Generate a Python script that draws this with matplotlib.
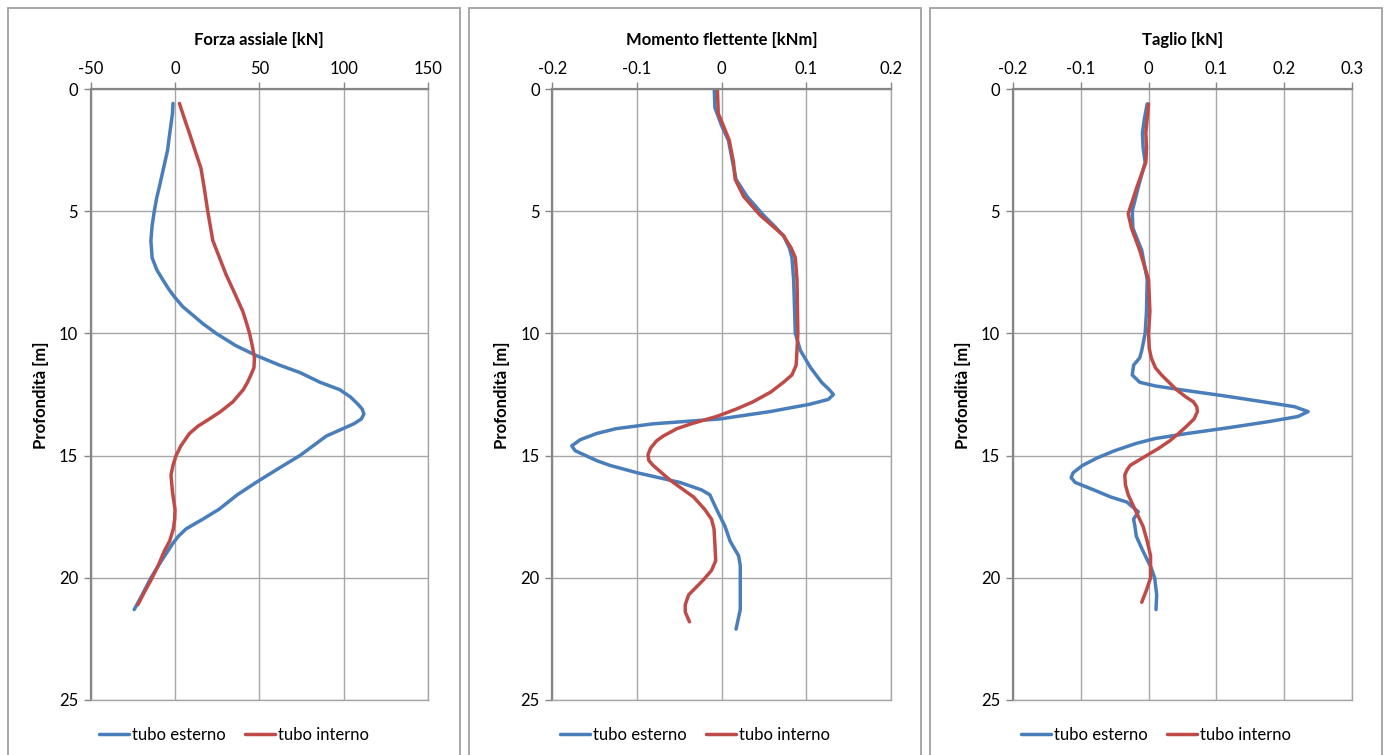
import matplotlib
matplotlib.use("Agg")
import matplotlib.pyplot as plt
from matplotlib.patches import Rectangle

plt.rcParams['font.family'] = ['Lato', 'DejaVu Sans']

# ---------------- data ----------------
series_names = ["tubo esterno", "tubo interno"]
ylabel = "Profondità [m]"

# Panel 1: Forza assiale [kN]
axial_title = "Forza assiale [kN]"
axial_ticks = [-50, 0, 50, 100, 150]
axial_ext_depth = [0.59, 1.0, 1.5, 2.0, 2.5, 3.3, 4.0, 4.5, 5.0, 5.6, 6.2, 6.9, 7.4, 7.8, 8.2, 8.5, 8.9,
                   9.25, 9.6, 10.0, 10.5, 10.9, 11.3, 11.6, 12.0, 12.3, 12.6, 12.9, 13.1, 13.3, 13.5,
                   13.7, 14.2, 15.0, 15.5, 16.1, 16.6, 17.2, 17.6, 18.0, 18.3, 18.6, 19.3, 20.0, 20.7,
                   21.3]
axial_ext_val = [-1.2, -1.5, -2.5, -3.5, -4.4, -7.0, -9.3, -11.0, -12.3, -13.6, -14.3, -13.6, -10.8,
                 -7.3, -3.6, -0.4, 4.5, 10.5, 16.5, 24.4, 36.0, 48.0, 62.0, 74.0, 86.0, 97.6, 104.0,
                 108.5, 111.0, 112.0, 110.5, 106.0, 89.7, 74.0, 62.0, 48.0, 37.0, 26.0, 16.5, 6.5,
                 2.0, -1.4, -8.0, -14.3, -19.5, -24.2]
axial_int_depth = [0.59, 1.2, 1.8, 2.5, 3.25, 4.0, 5.0, 6.2, 7.6, 8.3, 9.1, 9.6, 10.0, 10.5, 11.0, 11.4,
                   11.7, 12.0, 12.3, 12.8, 13.2, 13.5, 13.8, 14.1, 14.6, 15.0, 15.4, 15.8, 16.5, 17.2,
                   17.6, 18.0, 18.5, 18.9, 19.5, 20.1, 20.6, 21.1]
axial_int_val = [2.6, 5.5, 8.5, 11.8, 15.4, 17.2, 19.4, 22.4, 30.3, 35.0, 40.2, 42.5, 44.2, 45.8, 47.1,
                 46.8, 45.0, 43.0, 40.5, 34.3, 27.0, 20.4, 13.5, 8.5, 3.5, 0.6, -1.2, -2.4, -1.5, 0.0,
                 -0.2, -1.0, -3.2, -6.3, -10.0, -14.3, -18.3, -22.0]

# Panel 2: Momento flettente [kNm]
moment_title = "Momento flettente [kNm]"
moment_ticks = [-0.2, -0.1, 0, 0.1, 0.2]
moment_ext_depth = [0.03, 0.76, 1.5, 2.1, 3.0, 3.7, 4.4, 5.15, 5.6, 6.0, 6.5, 6.9, 7.8, 10.0, 10.7,
                    11.4, 12.0, 12.3, 12.5, 12.7, 12.9, 13.2, 13.5, 13.7, 13.9, 14.1, 14.35, 14.6,
                    14.8, 14.96, 15.2, 15.4, 15.7, 16.1, 16.4, 16.6, 17.2, 17.9, 18.5, 19.1, 19.5,
                    20.1, 21.3, 22.1]
moment_ext_val = [-0.0087, -0.008, 0.0, 0.008, 0.013, 0.017, 0.030, 0.049, 0.062, 0.073, 0.080, 0.083,
                  0.085, 0.087, 0.093, 0.105, 0.118, 0.127, 0.132, 0.126, 0.104, 0.057, -0.002,
                  -0.081, -0.125, -0.148, -0.167, -0.177, -0.173, -0.163, -0.148, -0.132, -0.100,
                  -0.049, -0.024, -0.014, -0.006, 0.004, 0.010, 0.020, 0.022, 0.022, 0.022, 0.017]
moment_int_depth = [0.03, 1.0, 1.5, 2.1, 3.0, 3.7, 4.4, 5.15, 5.6, 6.0, 6.5, 6.9, 7.8, 10.0, 11.3,
                    11.7, 12.0, 12.4, 12.8, 13.1, 13.4, 13.7, 13.9, 14.2, 14.4, 14.7, 14.96, 15.2,
                    15.4, 16.0, 16.7, 17.2, 17.6, 18.0, 18.6, 19.3, 19.7, 20.1, 20.7, 21.1, 21.4, 21.8]
moment_int_val = [-0.005, -0.004, 0.002, 0.009, 0.014, 0.016, 0.026, 0.045, 0.060, 0.073, 0.082, 0.087,
                  0.089, 0.090, 0.088, 0.083, 0.073, 0.058, 0.037, 0.017, -0.006, -0.036, -0.053,
                  -0.069, -0.077, -0.084, -0.087, -0.086, -0.081, -0.061, -0.033, -0.020, -0.012,
                  -0.009, -0.008, -0.007, -0.012, -0.022, -0.039, -0.043, -0.043, -0.038]

# Panel 3: Taglio [kN]
shear_title = "Taglio [kN]"
shear_ticks = [-0.2, -0.1, 0, 0.1, 0.2, 0.3]
shear_ext_depth = [0.61, 1.2, 1.8, 2.4, 3.0, 4.0, 5.0, 5.7, 6.6, 7.8, 9.1, 10.0, 10.7, 11.0, 11.3,
                   11.7, 12.0, 12.15, 12.3, 12.55, 12.8, 13.0, 13.2, 13.4, 13.6, 13.85, 14.1, 14.3,
                   14.5, 14.8, 15.1, 15.4, 15.7, 15.9, 16.1, 16.4, 16.7, 16.9, 17.3, 17.6, 17.9,
                   18.3, 18.8, 19.2, 19.6, 20.0, 20.7, 21.3]
shear_ext_val = [-0.002, -0.006, -0.009, -0.008, -0.005, -0.015, -0.024, -0.023, -0.010, -0.002,
                 -0.003, -0.005, -0.010, -0.013, -0.022, -0.024, -0.013, 0.010, 0.046, 0.110, 0.169,
                 0.215, 0.235, 0.220, 0.179, 0.120, 0.056, 0.010, -0.018, -0.050, -0.076, -0.097,
                 -0.111, -0.114, -0.108, -0.081, -0.055, -0.032, -0.015, -0.022, -0.020, -0.018,
                 -0.010, -0.003, 0.004, 0.009, 0.012, 0.011]
shear_int_depth = [0.61, 1.2, 1.8, 2.4, 3.0, 4.0, 4.6, 5.1, 5.7, 6.6, 7.8, 9.1, 10.0, 10.6, 11.0,
                   11.4, 11.7, 12.0, 12.3, 12.6, 12.8, 13.0, 13.2, 13.5, 13.8, 14.1, 14.4, 14.7,
                   15.0, 15.2, 15.4, 15.6, 15.8, 16.2, 16.6, 17.2, 17.9, 18.5, 19.1, 20.0, 20.5, 21.0]
shear_int_val = [0.0, -0.002, -0.004, -0.003, -0.004, -0.017, -0.024, -0.030, -0.025, -0.013, 0.0,
                 0.002, 0.0, 0.001, 0.004, 0.010, 0.019, 0.030, 0.041, 0.055, 0.066, 0.071, 0.072,
                 0.067, 0.056, 0.044, 0.031, 0.015, -0.003, -0.015, -0.027, -0.032, -0.035, -0.034,
                 -0.030, -0.020, -0.008, -0.002, 0.003, 0.003, -0.003, -0.010]

y_ticks = [0, 5, 10, 15, 20, 25]

# ---------------- styling ----------------
W, H = 1385, 755
BLUE = "#4A7EBB"
RED = "#BE4B48"
AXIS_C = "#868686"
GRID_C = "#A6A6A6"
BORDER_C = "#A0A0A0"

fig = plt.figure(figsize=(W / 100, H / 100), dpi=100)
fig.patch.set_facecolor("white")


def px_axes(x0, x1, y0, y1):
    return fig.add_axes([x0 / W, (H - y1) / H, (x1 - x0) / W, (y1 - y0) / H])


panels = [
    dict(border=(8, 460), ax=(90.7, 428.0), title=axial_title, ticks=axial_ticks,
         lim=(-50, 150), ext=(axial_ext_val, axial_ext_depth), int=(axial_int_val, axial_int_depth)),
    dict(border=(469, 921), ax=(552.3, 891.0), title=moment_title, ticks=moment_ticks,
         lim=(-0.2, 0.2), ext=(moment_ext_val, moment_ext_depth), int=(moment_int_val, moment_int_depth)),
    dict(border=(930, 1382), ax=(1012.7, 1352.3), title=shear_title, ticks=shear_ticks,
         lim=(-0.2, 0.3), ext=(shear_ext_val, shear_ext_depth), int=(shear_int_val, shear_int_depth)),
]

for p in panels:
    bx0, bx1 = p["border"]
    fig.patches.append(Rectangle((bx0 / W, -0.05), (bx1 - bx0) / W, (H - 8) / H + 0.05,
                                 transform=fig.transFigure, fill=False, edgecolor=BORDER_C,
                                 linewidth=1.3, zorder=0))
    ax = px_axes(p["ax"][0], p["ax"][1], 89, 700)
    ax.set_xlim(*p["lim"])
    ax.set_ylim(25, 0)
    ax.set_xticks(p["ticks"])
    ax.set_xticklabels([f"{t:g}" for t in p["ticks"]])
    ax.set_yticks(y_ticks)
    ax.xaxis.tick_top()
    ax.tick_params(axis="both", direction="out", length=5, width=1.0, color=AXIS_C,
                   labelsize=12, pad=4, labelcolor="black")
    ax.grid(True, color=GRID_C, linewidth=1.0)
    ax.set_axisbelow(True)
    for side in ("top", "left"):
        ax.spines[side].set_color(AXIS_C)
        ax.spines[side].set_linewidth(1.6)
    for side in ("bottom", "right"):
        ax.spines[side].set_color(GRID_C)
        ax.spines[side].set_linewidth(1.0)
    l1, = ax.plot(p["ext"][0], p["ext"][1], color=BLUE, linewidth=2.5, solid_capstyle="round",
                  solid_joinstyle="round", label=series_names[0])
    l2, = ax.plot(p["int"][0], p["int"][1], color=RED, linewidth=2.5, solid_capstyle="round",
                  solid_joinstyle="round", label=series_names[1])
    cx = (p["ax"][0] + p["ax"][1]) / 2
    fig.text(cx / W, (H - 40) / H, p["title"], ha="center", va="center", fontsize=12,
             fontweight="bold")
    fig.text((p["ax"][0] - 50) / W, (H - 395) / H, ylabel, ha="center", va="center", fontsize=12,
             fontweight="bold", rotation=90)
    bc = (bx0 + bx1) / 2
    fig.legend(handles=[l1, l2], loc="center", bbox_to_anchor=(bc / W, (H - 735) / H),
               ncol=2, frameon=False, fontsize=12, handlelength=1.8, handletextpad=0.15,
               columnspacing=1.2)

fig.savefig("out.png", dpi=100, facecolor="white")
